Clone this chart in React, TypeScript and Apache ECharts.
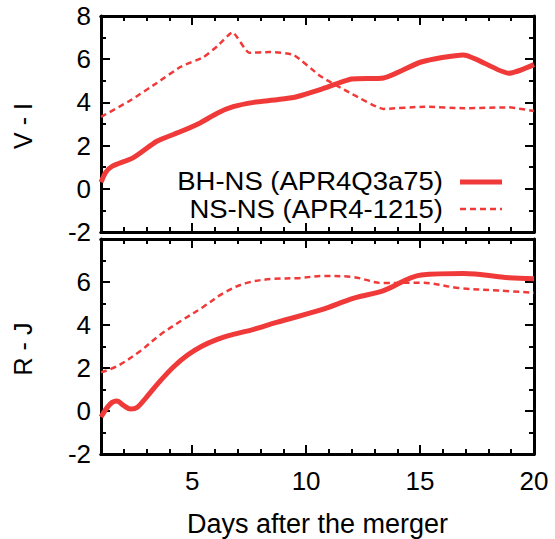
import React, { useEffect, useRef } from "react";
import * as echarts from "echarts";

const RED = "#f03a3a";
const FONT = "Liberation Sans";
const FS = 26;

const xMajorTicks = [5, 10, 15, 20];
const xMinorTicks = [2, 3, 4, 6, 7, 8, 9, 11, 12, 13, 14, 16, 17, 18, 19];

const seriesNames = ["BH-NS (APR4Q3a75)", "NS-NS (APR4-1215)"];

// V - I, BH-NS
const viBhnsDays = [1, 1.2, 1.5, 2.4, 3.45, 4.5, 5.35, 6.1, 6.8, 7.7, 8.7, 9.55, 10.65, 12.0, 13.4, 15.05, 16.9, 18.9, 20];
const viBhns = [0.3, 0.75, 1.05, 1.43, 2.2, 2.65, 3.05, 3.5, 3.8, 4.0, 4.12, 4.25, 4.6, 5.08, 5.13, 5.87, 6.2, 5.35, 5.75];

// V - I, NS-NS
const viNsnsDays = [1, 2.3, 3.45, 4.5, 5.5, 6.1, 6.77, 7.5, 8.4, 9.45, 10.65, 12.0, 13.4, 15.2, 16.95, 18.9, 20];
const viNsns = [3.33, 4.1, 4.9, 5.65, 6.1, 6.6, 7.25, 6.3, 6.33, 6.2, 5.2, 4.4, 3.7, 3.8, 3.73, 3.77, 3.6];

// R - J, BH-NS
const rjBhnsDays = [1, 1.4, 1.7, 2.0, 2.3, 2.6, 3.0, 3.6, 4.2, 4.8, 5.4, 6.1, 6.8, 7.7, 8.7, 10.65, 12.1, 13.4, 15.05, 16.9, 18.9, 20];
const rjBhns = [-0.28, 0.32, 0.46, 0.25, 0.09, 0.18, 0.65, 1.4, 2.07, 2.6, 3.0, 3.33, 3.56, 3.8, 4.12, 4.7, 5.25, 5.6, 6.33, 6.4, 6.2, 6.15];

// R - J, NS-NS
const rjNsnsDays = [1, 1.7, 2.7, 3.6, 4.6, 5.5, 6.4, 7.4, 8.6, 9.6, 10.8, 12.0, 13.4, 15.05, 16.7, 18.45, 20];
const rjNsns = [1.8, 2.08, 2.77, 3.55, 4.25, 4.85, 5.5, 5.96, 6.15, 6.18, 6.28, 6.24, 5.95, 5.97, 5.72, 5.6, 5.5];

const yLabels = ["V - I", "R - J"];
const xTitle = "Days after the merger";

const zip = (xs: number[], ys: number[]) => xs.map((x, i) => [x, ys[i]]);

export default function App() {
  const ref = useRef<HTMLDivElement>(null);
  useEffect(() => {
    const chart = echarts.init(ref.current!, null, { renderer: "svg" });
    const axisLine = { show: true, onZero: false, lineStyle: { color: "#000", width: 3 } };
    const xAxes: any[] = [];
    [0, 1].forEach((g) => {
      ["bottom", "top"].forEach((pos) => {
        const showLabel = g === 1 && pos === "bottom";
        xAxes.push({
          type: "value",
          gridIndex: g,
          position: pos,
          min: 1,
          max: 20,
          axisLine,
          splitLine: { show: false },
          axisTick: { show: true, inside: true, length: 9, customValues: xMajorTicks, lineStyle: { color: "#000", width: 2 } },
          axisLabel: {
            show: showLabel,
            customValues: xMajorTicks,
            fontFamily: FONT,
            fontSize: FS,
            color: "#000",
            margin: 14,
          },
          name: showLabel ? xTitle : "",
          nameLocation: "middle",
          nameGap: 56,
          nameTextStyle: { fontFamily: FONT, fontSize: 27, color: "#000" },
        });
        xAxes.push({
          type: "value",
          gridIndex: g,
          position: pos,
          min: 1,
          max: 20,
          axisLine,
          splitLine: { show: false },
          axisTick: { show: true, inside: true, length: 5, customValues: xMinorTicks, lineStyle: { color: "#000", width: 2 } },
          axisLabel: { show: false },
        });
      });
    });
    const yAxes: any[] = [];
    [0, 1].forEach((g) => {
      ["left", "right"].forEach((pos) => {
        yAxes.push({
          type: "value",
          gridIndex: g,
          position: pos,
          min: -2,
          max: 8,
          interval: 2,
          axisLine,
          splitLine: { show: false },
          axisTick: { show: true, inside: true, length: 9, lineStyle: { color: "#000", width: 2 } },
          minorTick: { show: true, splitNumber: 2, length: 5, lineStyle: { color: "#000", width: 2 } },
          axisLabel: {
            show: pos === "left",
            fontFamily: FONT,
            fontSize: FS,
            color: "#000",
            margin: 10,
            formatter: (v: number) => (g === 1 && v === 8 ? "" : String(v)),
          },
        });
      });
    });
    const solid = (data: number[][], xi: number, yi: number, smooth: number) => ({
      type: "line",
      name: seriesNames[0],
      xAxisIndex: xi,
      yAxisIndex: yi,
      data,
      showSymbol: false,
      smooth,
      lineStyle: { color: RED, width: 5 },
    });
    const dashed = (data: number[][], xi: number, yi: number, smooth: number) => ({
      type: "line",
      name: seriesNames[1],
      xAxisIndex: xi,
      yAxisIndex: yi,
      data,
      showSymbol: false,
      smooth,
      lineStyle: { color: RED, width: 2.5, type: [6, 4] },
    });
    const legendFont = { fontFamily: FONT, fontSize: 25, fill: "#000" };
    chart.setOption({
      animation: false,
      grid: [
        { left: 101, top: 16, width: 433, height: 216 },
        { left: 101, top: 239, width: 433, height: 215 },
      ],
      xAxis: xAxes,
      yAxis: yAxes,
      series: [
        solid(zip(viBhnsDays, viBhns), 0, 0, 0.2),
        dashed(zip(viNsnsDays, viNsns), 0, 0, 0.15),
        solid(zip(rjBhnsDays, rjBhns), 4, 2, 0.35),
        dashed(zip(rjNsnsDays, rjNsns), 4, 2, 0.35),
      ],
      graphic: [
        { type: "text", x: 23, y: 126, rotation: Math.PI / 2, style: { text: yLabels[0], fontFamily: FONT, fontSize: 25, fill: "#000", align: "center", verticalAlign: "middle" } },
        { type: "text", x: 23, y: 349, rotation: Math.PI / 2, style: { text: yLabels[1], fontFamily: FONT, fontSize: 25, fill: "#000", align: "center", verticalAlign: "middle" } },
        { type: "text", x: 443, y: 181, scaleX: 1.1, style: { text: seriesNames[0], ...legendFont, align: "right", verticalAlign: "middle" } },
        { type: "text", x: 443, y: 209, scaleX: 1.1, style: { text: seriesNames[1], ...legendFont, align: "right", verticalAlign: "middle" } },
        { type: "line", shape: { x1: 460, y1: 182, x2: 502, y2: 182 }, style: { stroke: RED, lineWidth: 5 } },
        { type: "line", shape: { x1: 460, y1: 209, x2: 502, y2: 209 }, style: { stroke: RED, lineWidth: 2.5, lineDash: [6, 4] } },
      ],
    });
    return () => chart.dispose();
  }, []);
  return <div ref={ref} style={{ position: "absolute", left: 0, top: 0, width: 555, height: 539 }} />;
}
